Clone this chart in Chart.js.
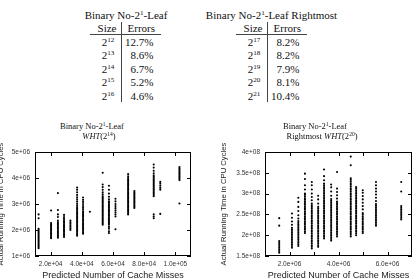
<!DOCTYPE html>
<html>
<head>
<meta charset="utf-8">
<script src="https://cdn.jsdelivr.net/npm/chart.js@4.4.1/dist/chart.umd.min.js"></script>
<style>
  body { margin: 0; width: 417px; height: 279px; background: #fff; position: relative; overflow: hidden; }
  .t { position: absolute; white-space: nowrap; line-height: 1; color: #111; font-family: 'Liberation Serif', serif; }
  .t sup { font-size: 0.65em; line-height: 0; vertical-align: 0.5em; }
  .rule { position: absolute; background: #444; }
  canvas { position: absolute; }
</style>
</head>
<body>
<canvas id="leftPlot" width="205" height="139" style="left:0;top:140px"></canvas>
<canvas id="rightPlot" width="212" height="139" style="left:205px;top:140px"></canvas>
<script>
// --- tables ---
const LEFT_SIZES = [12, 13, 14, 15, 16];
const LEFT_ERRORS = [12.7, 8.6, 6.7, 5.2, 4.6];
const RIGHT_SIZES = [17, 18, 19, 20, 21];
const RIGHT_ERRORS = [8.2, 8.2, 7.9, 8.1, 10.4];

// --- left plot: WHT(2^14), cache misses vs cycles (millions) ---
const LEFT_MISSES = [12300, 20300, 24700, 28600, 32700, 37000, 40800, 45200, 53400, 57400, 61600, 69700, 73700, 86100, 90300, 102600];
const LEFT_CYCLES_M = [
  [1.30,1.35,1.40,1.45,1.50,1.55,1.60,1.65,1.70,1.75,1.80,1.85,1.90,1.95,2.00,2.05,2.45,2.60],
  [1.68,1.72,1.77,1.82,1.87,1.92,1.97,2.02,2.07,2.12,2.17,2.22,2.27,2.75],
  [1.70,1.75,1.80,1.85,1.90,1.95,2.00,2.05,2.10,2.15,2.20,2.25,2.30,2.36,2.50,2.60,2.77,3.42],
  [1.73,1.78,1.83,1.88,1.93,1.98,2.03,2.08,2.13,2.18,2.23,2.28,2.33,2.38,2.44,2.50,2.58],
  [2.00,2.06,2.12,2.18,2.24,2.30,2.36],
  [1.78,1.83,1.88,1.93,1.98,2.03,2.08,2.13,2.18,2.23,2.28,2.33,2.38,2.43,2.48,2.53,2.58,2.63,2.68,2.73,2.78,2.83,2.88,2.95,3.02,3.10,3.18,3.26,3.35,3.45,3.55,3.63],
  [1.86,1.91,1.96,2.01,2.06,2.11,2.16,2.21,2.26,2.31,2.36,2.41,2.46,2.51,2.56,2.61,2.66,2.71,2.78,2.85,2.92,3.00,3.08,3.16,3.25],
  [2.70],
  [2.20,2.25,2.30,2.35,2.40,2.45,2.50,2.55,2.60,2.65,2.70,2.75,2.80,2.85,2.90,2.95,3.00,3.05,3.10,3.15,3.20,3.25,3.30,3.37,3.45,3.55,3.65,3.75,4.20],
  [1.88,1.95,2.05,2.12,2.20,2.25,2.30,2.35,2.40,2.45,2.50,2.55,2.60,2.65,2.70,2.75,2.80,2.85,2.90,2.95,3.00,3.05,3.10,3.18,3.28,3.40,3.55,3.70],
  [2.03,2.52,2.60,2.68,2.76,2.84,2.92,3.00,3.10,3.20],
  [2.60,2.65,2.70,2.75,2.80,2.85,2.90,2.95,3.00,3.05,3.10,3.15,3.20,3.25,3.30,3.35,3.40,3.45,3.50,3.55,3.60,3.65,3.70,3.75,3.80,3.85,3.90,3.95,4.00,4.07,4.15],
  [2.85,2.90,2.95,3.00,3.05,3.10,3.15,3.20,3.25,3.30,3.35,3.40,3.45,3.50],
  [2.45,2.52,2.60,3.30,3.35,3.40,3.45,3.50,3.55,3.60,3.65,3.70,3.75,3.80,3.85,3.90,3.95,4.00,4.05,4.10,4.18,4.28,4.40,4.52],
  [2.62,3.55,3.62,3.70,3.78,3.85],
  [3.02,3.92,3.97,4.02,4.07,4.12,4.17,4.22,4.27,4.32,4.37,4.42]
];
const LEFT_X_TICKS = [20000, 40000, 60000, 80000, 100000];
const LEFT_Y_TICKS = [1e6, 2e6, 3e6, 4e6, 5e6];

// --- right plot: Rightmost WHT(2^20), cycles in units of 1e8 ---
const RIGHT_MISSES = [1.58e6, 2.10e6, 2.36e6, 2.63e6, 2.91e6, 3.17e6, 3.41e6, 3.70e6, 3.94e6, 4.50e6, 4.72e6, 4.99e6, 5.53e6, 6.56e6];
const RIGHT_CYCLES_E8 = [
  [1.58,1.62,1.66,1.70,1.74,1.78,1.82,1.86,2.23,2.41],
  [1.70,1.74,1.78,1.82,1.86,1.90,1.94,1.98,2.02,2.06,2.10,2.14,2.18,2.25,2.33,2.42,2.52],
  [1.74,1.78,1.82,1.86,1.90,1.94,1.98,2.02,2.06,2.10,2.14,2.18,2.22,2.26,2.30,2.34,2.40,2.48,2.58,2.68,2.80,2.90],
  [2.05,2.09,2.13,2.17,2.21,2.25,2.29,2.33,2.37,2.41,2.45,2.49,2.53,2.57,2.61,2.65,2.69,2.73,2.77,2.81,2.85,2.89,2.93,2.97,3.00,3.10,3.20,3.35,3.48],
  [1.68,1.72,1.76,1.80,1.84,1.88,1.92,1.96,2.00,2.04,2.08,2.12,2.16,2.20,2.24,2.28,2.32,2.36,2.40,2.44,2.48,2.52,2.56,2.60,2.64,2.68,2.72,2.76,2.84,2.92,3.00,3.10,3.20,3.28],
  [1.72,1.76,1.80,1.84,1.88,1.92,1.96,2.00,2.04,2.08,2.12,2.16,2.20,2.24,2.28,2.32,2.36,2.40,2.44,2.48,2.52,2.56,2.60,2.64,2.68,2.76,2.86,2.95],
  [1.92,1.96,2.00,2.04,2.08,2.12,2.16,2.20,2.24,2.28,2.32,2.36,2.40,2.44,2.48,2.52,2.56,2.60,2.64,2.68,2.72,2.76,2.80,2.84,2.88,2.92,2.96,3.00,3.04,3.08,3.12,3.16,3.20,3.24,3.32,3.42,3.58],
  [1.87,1.91,1.95,1.99,2.03,2.07,2.11,2.15,2.19,2.23,2.27,2.31,2.35,2.39,2.43,2.47,2.51,2.55,2.59,2.63,2.67,2.71,2.75,2.79,2.83,2.87,2.95,3.05,3.15,3.22],
  [1.97,2.01,2.05,2.09,2.13,2.17,2.21,2.25,2.29,2.33,2.37,2.41,2.45,2.49,2.53,2.57,2.61,2.65,2.69,2.73,2.77,2.81,2.88,2.96,3.04,3.12,3.52],
  [1.97,2.01,2.05,2.09,2.13,2.17,2.21,2.25,2.29,2.33,2.37,2.41,2.45,2.49,2.53,2.57,2.61,2.65,2.69,2.73,2.77,2.81,2.85,2.89,2.93,2.97,3.01,3.05,3.09,3.13,3.17,3.21,3.25,3.29,3.33,3.37,3.68,3.89],
  [2.00,2.04,2.08,2.12,2.16,2.20,2.24,2.28,2.32,2.36,2.40,2.44,2.48,2.52,2.56,2.60,2.64,2.68,2.72,2.76,2.80,2.84,2.88,2.92,2.96,3.00,3.04,3.08,3.12,3.16],
  [2.05,2.09,2.13,2.17,2.21,2.25,2.29,2.33,2.37,2.41,2.45,2.49,2.53,2.62,2.70,2.78,2.86,2.94,3.02,3.08],
  [2.23,2.27,2.31,2.35,2.39,2.43,2.47,2.51,2.55,2.59,2.63,2.67,2.71,2.75,2.82,2.90,2.98,3.05,3.12,3.20,3.28],
  [2.38,2.42,2.46,2.50,2.54,2.58,2.62,2.66,2.70,3.05,3.28]
];
const RIGHT_X_TICKS = [2e6, 3e6, 4e6, 5e6, 6e6];
const RIGHT_Y_TICKS = [1.5e8, 2e8, 2.5e8, 3e8, 3.5e8, 4e8];

const SANS = "'Liberation Sans', Arial, sans-serif";
const X_TITLE = 'Predicted Number of Cache Misses';
const Y_TITLE = 'Actual Running Time in CPU Cycles';

// gnuplot-ish exponent labels: 2.0e+04, 5e+06, 3.5e+08
function expLabel(v, digits) {
  const s = digits === undefined ? v.toExponential() : v.toExponential(digits);
  return s.replace(/e([+-])(\d)$/, 'e$10$2');
}

// --- html text helpers ---
function put(html, x, y, size, align) {
  const d = document.createElement('div');
  d.className = 't';
  d.innerHTML = html;
  d.style.left = x + 'px';
  d.style.top = y + 'px';
  d.style.fontSize = size + 'px';
  const tx = align === 'right' ? '-100%' : align === 'left' ? '0' : '-50%';
  d.style.transform = `translate(${tx}, -50%)`;
  document.body.appendChild(d);
}
function rule(x, y, w, h) {
  const d = document.createElement('div');
  d.className = 'rule';
  Object.assign(d.style, { left: x + 'px', top: y + 'px', width: w + 'px', height: h + 'px' });
  document.body.appendChild(d);
}

const ROW_Y = [41.5, 55, 68.5, 82, 95.5];
function drawTable(t) {
  put(t.title, t.titleX, 14.5, 11);
  put('Size', t.sizeX - 1, 27.5, 11);
  put('Errors', t.lineX + 6.5, 27.5, 11, 'left');
  rule(t.lineX, 22, 1, 80);
  rule(t.lineX - 31, 34, 71, 1);
  t.sizes.forEach((s, i) => {
    put('2<sup>' + s + '</sup>', t.sizeX, ROW_Y[i], 11);
    put(t.errors[i].toFixed(1) + '%', t.lineX + 32.5, ROW_Y[i], 11, 'right');
  });
}

drawTable({ title: 'Binary No-2<sup>1</sup>-Leaf', titleX: 126, sizeX: 108, lineX: 121,
  sizes: LEFT_SIZES, errors: LEFT_ERRORS });
drawTable({ title: 'Binary No-2<sup>1</sup>-Leaf Rightmost', titleX: 271.5, sizeX: 254, lineX: 267,
  sizes: RIGHT_SIZES, errors: RIGHT_ERRORS });

// plot titles
put('Binary No-2<sup>1</sup>-Leaf', 92, 126, 8.5);
put('<i>WHT</i>(2<sup>14</sup>)', 99, 135.5, 8.5);
put('Binary No-2<sup>1</sup>-Leaf', 315, 126, 8.5);
put('Rightmost <i>WHT</i>(2<sup>20</sup>)', 322, 136.3, 8.5);

// --- frame with inward ticks on all four sides ---
const boxTicks = {
  id: 'boxTicks',
  afterDatasetsDraw(chart) {
    const { ctx, chartArea: a, scales: { x, y } } = chart;
    const len = 4;
    ctx.save();
    ctx.strokeStyle = '#000';
    ctx.lineWidth = 1;
    ctx.beginPath();
    x.ticks.forEach(t => {
      const px = Math.round(x.getPixelForValue(t.value)) + 0.5;
      ctx.moveTo(px, a.bottom); ctx.lineTo(px, a.bottom - len);
      ctx.moveTo(px, a.top); ctx.lineTo(px, a.top + len);
    });
    y.ticks.forEach(t => {
      const py = Math.round(y.getPixelForValue(t.value)) + 0.5;
      ctx.moveTo(a.left, py); ctx.lineTo(a.left + len, py);
      ctx.moveTo(a.right, py); ctx.lineTo(a.right - len, py);
    });
    ctx.stroke();
    ctx.strokeRect(a.left + 0.5, a.top + 0.5, a.right - a.left - 1, a.bottom - a.top - 1);
    ctx.restore();
  }
};

function makePlot(id, cfg) {
  const tickFont = { family: SANS, size: 6.5 };
  return new Chart(document.getElementById(id), {
    type: 'scatter',
    data: { datasets: [{
      data: cfg.points,
      pointRadius: 1.05,
      pointBackgroundColor: '#000',
      pointBorderWidth: 0,
      pointHoverRadius: 0
    }] },
    options: {
      responsive: false,
      animation: false,
      events: [],
      layout: { padding: { top: 12, right: cfg.padRight, left: 0, bottom: 0 } },
      plugins: { legend: { display: false }, tooltip: { enabled: false } },
      scales: {
        x: {
          type: 'linear', min: cfg.xMin, max: cfg.xMax,
          afterBuildTicks: s => { s.ticks = cfg.xTicks.map(v => ({ value: v })); },
          afterFit: s => { s.height = 23; },
          grid: { display: false, drawTicks: false },
          border: { display: false },
          ticks: { autoSkip: false, maxRotation: 0, padding: 4, font: tickFont, color: '#333', callback: cfg.xLabel },
          title: { display: true, text: X_TITLE, color: '#222', font: { family: SANS, size: 9, lineHeight: 1 }, padding: { top: 0, bottom: -1.5 } }
        },
        y: {
          type: 'linear', min: cfg.yMin, max: cfg.yMax,
          afterBuildTicks: s => { s.ticks = cfg.yTicks.map(v => ({ value: v })); },
          afterFit: s => { s.width = cfg.yWidth; },
          grid: { display: false, drawTicks: false },
          border: { display: false },
          ticks: { autoSkip: false, padding: 5, font: tickFont, color: '#333', callback: cfg.yLabel },
          title: { display: true, text: Y_TITLE, color: '#222', font: { family: SANS, size: 7.7, lineHeight: 1 }, padding: { top: cfg.yTitlePad, bottom: 0 } }
        }
      }
    },
    plugins: [boxTicks]
  });
}

makePlot('leftPlot', {
  points: LEFT_MISSES.flatMap((m, i) => LEFT_CYCLES_M[i].map(c => ({ x: m, y: c * 1e6 }))),
  xMin: 1e4, xMax: 1.1e5, yMin: 1e6, yMax: 5e6,
  xTicks: LEFT_X_TICKS, yTicks: LEFT_Y_TICKS,
  xLabel: v => expLabel(v, 1), yLabel: v => expLabel(v, 0),
  padRight: 14, yWidth: 35, yTitlePad: -2.85
});

makePlot('rightPlot', {
  points: RIGHT_MISSES.flatMap((m, i) => RIGHT_CYCLES_E8[i].map(c => ({ x: m, y: c * 1e8 }))),
  xMin: 1e6, xMax: 7e6, yMin: 1.5e8, yMax: 4e8,
  xTicks: RIGHT_X_TICKS, yTicks: RIGHT_Y_TICKS,
  xLabel: v => (v / 1e6) % 2 === 0 ? expLabel(v, 1) : '', yLabel: v => expLabel(v),
  padRight: 5, yWidth: 60, yTitlePad: 14.65
});
</script>
</body>
</html>
